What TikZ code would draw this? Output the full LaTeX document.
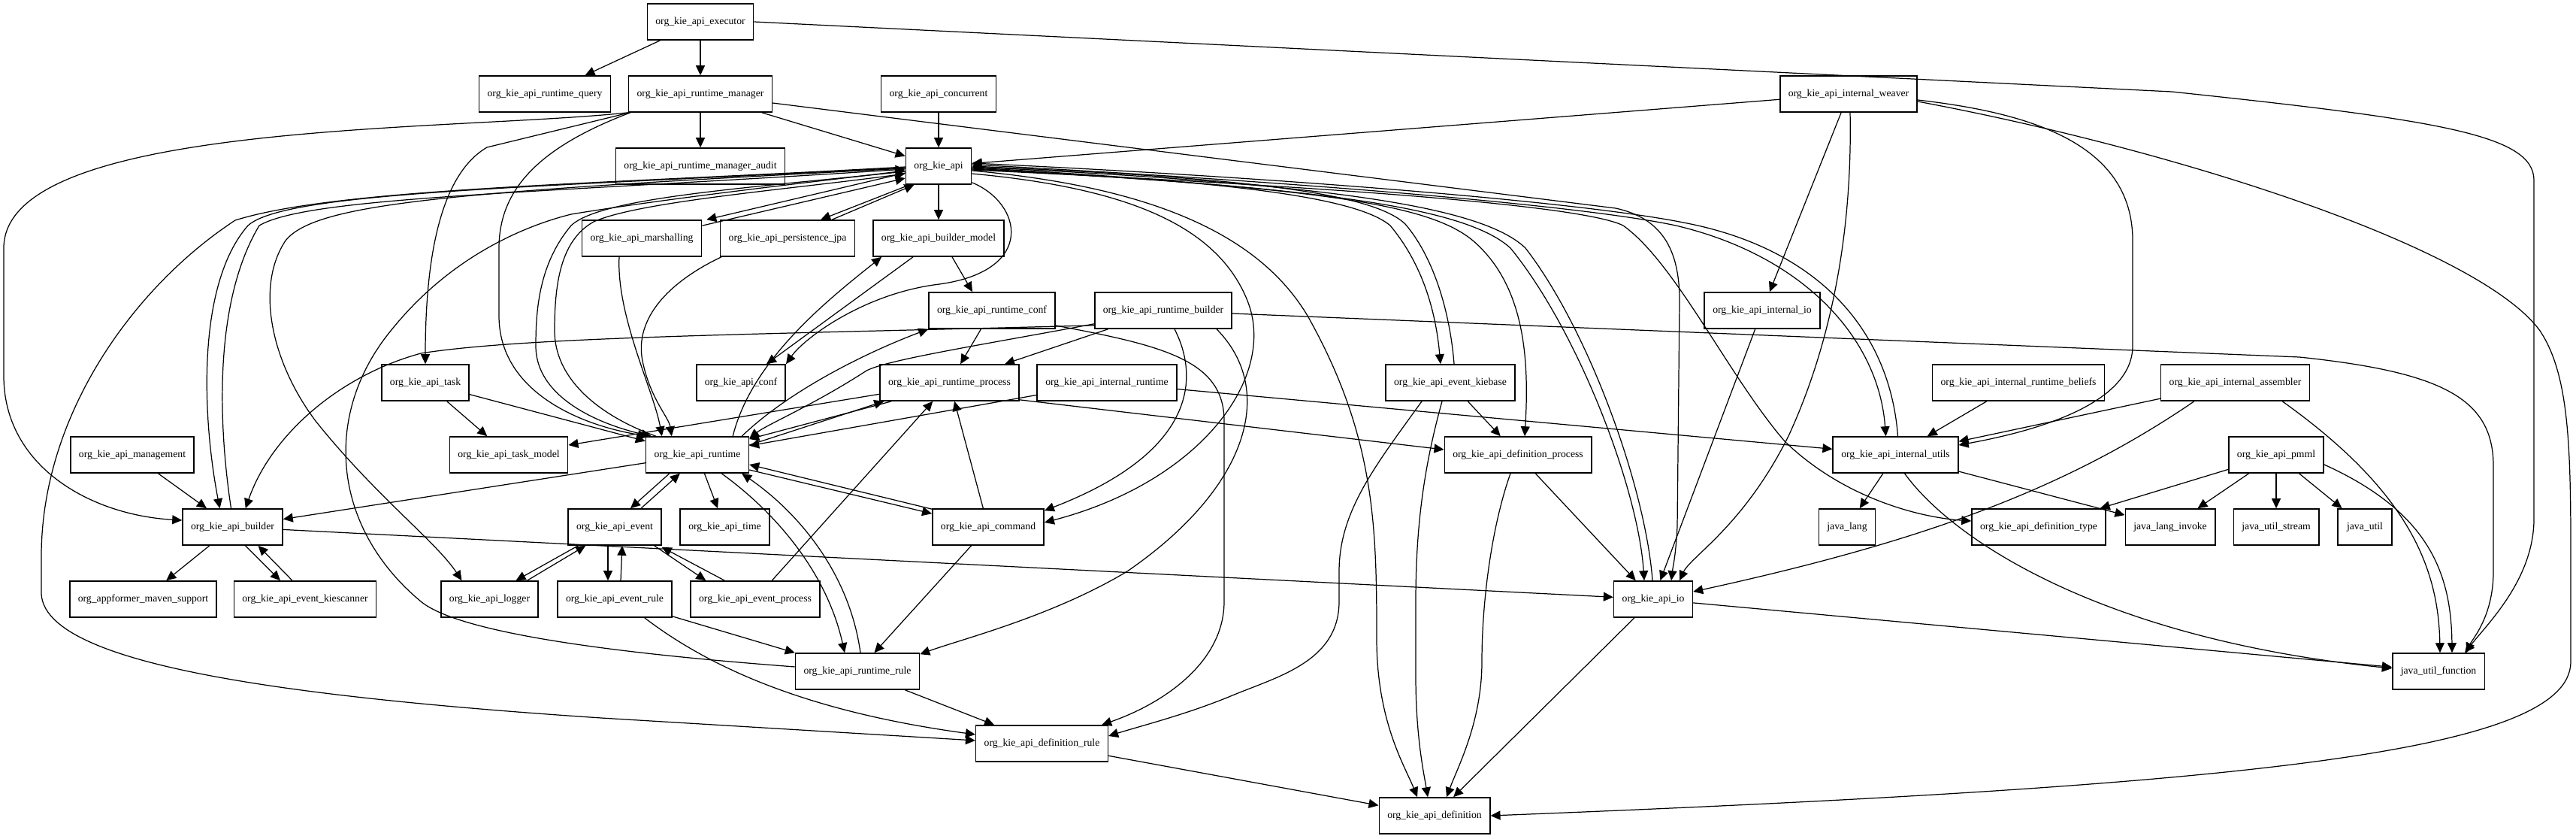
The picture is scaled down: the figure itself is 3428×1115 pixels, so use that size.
\documentclass[tikz,border=0pt]{standalone}
\usepackage{fontspec}
\setmainfont{Liberation Serif}
\usetikzlibrary{arrows.meta,calc}
\begin{document}
\begin{tikzpicture}[x=0.01cm,y=-0.01cm,
 box/.style={draw,line width=0.45pt,minimum height=0.48cm,minimum width=0.72cm,inner xsep=0.11cm,inner ysep=0pt,font=\fontsize{3.9pt}{4.5pt}\selectfont},
 edge/.style={line width=0.35pt,-{Triangle[length=0.13cm,width=0.12cm]}}]
\useasboundingbox[fill=white] (0,0) rectangle (3428,1115);
% nodes
\node[box] (exec) at (932,29) {org\_kie\_api\_executor};
\node[box] (rquery) at (725,125) {org\_kie\_api\_runtime\_query};
\node[box] (rman) at (932,125) {org\_kie\_api\_runtime\_manager};
\node[box] (conc) at (1249,125) {org\_kie\_api\_concurrent};
\node[box] (weaver) at (2460,125) {org\_kie\_api\_internal\_weaver};
\node[box] (audit) at (932,221) {org\_kie\_api\_runtime\_manager\_audit};
\node[box] (api) at (1249,221) {org\_kie\_api};
\node[box] (marsh) at (854,317) {org\_kie\_api\_marshalling};
\node[box] (jpa) at (1048,317) {org\_kie\_api\_persistence\_jpa};
\node[box] (bmodel) at (1249,317) {org\_kie\_api\_builder\_model};
\node[box] (rconf) at (1320,413) {org\_kie\_api\_runtime\_conf};
\node[box] (rbuilder) at (1548,413) {org\_kie\_api\_runtime\_builder};
\node[box] (iio) at (2345,413) {org\_kie\_api\_internal\_io};
\node[box] (task) at (566,509) {org\_kie\_api\_task};
\node[box] (conf) at (986,509) {org\_kie\_api\_conf};
\node[box] (rproc) at (1263.5,509) {org\_kie\_api\_runtime\_process};
\node[box] (iruntime) at (1473,509) {org\_kie\_api\_internal\_runtime};
\node[box] (kiebase) at (1930,509) {org\_kie\_api\_event\_kiebase};
\node[box] (beliefs) at (2686,509) {org\_kie\_api\_internal\_runtime\_beliefs};
\node[box] (assembler) at (2974.5,509) {org\_kie\_api\_internal\_assembler};
\node[box] (mgmt) at (176,605) {org\_kie\_api\_management};
\node[box] (tmodel) at (677,605) {org\_kie\_api\_task\_model};
\node[box] (runtime) at (928,605) {org\_kie\_api\_runtime};
\node[box] (dproc) at (2020,605) {org\_kie\_api\_definition\_process};
\node[box] (utils) at (2522.5,605) {org\_kie\_api\_internal\_utils};
\node[box] (pmml) at (3029,605) {org\_kie\_api\_pmml};
\node[box] (builder) at (309.5,701) {org\_kie\_api\_builder};
\node[box] (event) at (818,701) {org\_kie\_api\_event};
\node[box] (time) at (964.5,701) {org\_kie\_api\_time};
\node[box] (command) at (1315,701) {org\_kie\_api\_command};
\node[box] (jlang) at (2458,701) {java\_lang};
\node[box] (dtype) at (2713,701) {org\_kie\_api\_definition\_type};
\node[box] (jinvoke) at (2888,701) {java\_lang\_invoke};
\node[box] (jstream) at (3029,701) {java\_util\_stream};
\node[box] (jutil) at (3147,701) {java\_util};
\node[box] (appf) at (190.5,797) {org\_appformer\_maven\_support};
\node[box] (kiescan) at (406,797) {org\_kie\_api\_event\_kiescanner};
\node[box] (logger) at (651.5,797) {org\_kie\_api\_logger};
\node[box] (erule) at (818,797) {org\_kie\_api\_event\_rule};
\node[box] (eproc) at (1005,797) {org\_kie\_api\_event\_process};
\node[box] (io) at (2200,797) {org\_kie\_api\_io};
\node[box] (rrule) at (1141,893) {org\_kie\_api\_runtime\_rule};
\node[box] (jfunc) at (3245,893) {java\_util\_function};
\node[box] (drule) at (1386.5,989) {org\_kie\_api\_definition\_rule};
\node[box] (def) at (1909,1085) {org\_kie\_api\_definition};
% executor
\draw[edge] (exec) -- (rquery);
\draw[edge] (exec) -- (rman);
\draw[edge] (exec.east) -- (2890,122) .. controls (3250,160) and (3372,180) .. (3372,240) -- (3372,690) .. controls (3372,770) and (3310,830) .. ($(jfunc.north)+(35,0)$);
% runtime manager
\draw[edge] (rman) -- (audit);
\draw[edge] (rman) -- (api);
\draw[edge] (rman.south west) .. controls (600,175) and (5,160) .. (5,330) -- (5,500) .. controls (5,620) and (120,685) .. ($(builder.west)+(0,-9)$);
\draw[edge] ($(rman.south west)+(2,0)$) -- (648,196) .. controls (590,230) and (566,330) .. (task.north);
\draw[edge] ($(rman.south west)+(3,0)$) .. controls (720,195) and (664,250) .. (664,330) -- (664,420) .. controls (664,520) and (770,565) .. ($(runtime.north west)+(3,0)$);
\draw[edge] ($(rman.east)+(0,12)$) -- (2150,277) .. controls (2210,290) and (2235,330) .. (2235,400) -- (2232,700) .. controls (2230,740) and (2226,755) .. ($(io.north)+(24,0)$);
\draw[edge] (conc) -- (api);
% weaver
\draw[edge] (weaver) -- (api);
\draw[edge] (weaver) -- (iio);
\draw[edge] ($(weaver.south)+(2,0)$) .. controls (2465,300) and (2440,450) .. (2380,580) .. controls (2320,700) and (2250,740) .. ($(io.north)+(35,0)$);
\draw[edge] ($(weaver.east)+(0,8)$) .. controls (2700,150) and (2838,190) .. (2838,320) -- (2838,460) .. controls (2838,540) and (2700,575) .. ($(utils.east)+(0,-13)$);
\draw[edge] ($(weaver.east)+(0,10)$) .. controls (2900,200) and (3300,330) .. (3380,440) .. controls (3420,500) and (3421,600) .. (3421,750) -- (3421,880) .. controls (3421,1000) and (3000,1045) .. (def.east);
% api
\draw[edge] (api) -- (bmodel);
\draw[edge] ($(api.west)+(0,9)$) -- ($(marsh.north east)+(6,0)$);
\draw[edge] ($(marsh.north east)+(0,8)$) -- ($(api.west)+(0,16)$);
\draw[edge] ($(api.south west)+(6,0)$) -- ($(jpa.north east)+(-46,0)$);
\draw[edge] ($(jpa.north east)+(-31,0)$) -- ($(api.south west)+(12,0)$);
\draw[edge] ($(api.west)+(0,2)$) .. controls (700,250) and (380,255) .. (330,300) .. controls (260,380) and (270,560) .. ($(builder.north)+(-17,0)$);
\draw[edge] ($(builder.north)+(-2,0)$) .. controls (290,560) and (285,400) .. (345,300) .. controls (410,262) and (700,258) .. ($(api.west)+(0,4)$);
\draw[edge] ($(api.west)+(0,1)$) .. controls (800,245) and (450,250) .. (313,293) .. controls (180,380) and (55,550) .. (55,740) -- (55,790) .. controls (60,880) and (350,925) .. (800,955) -- ($(drule.west)+(0,-4)$);
\draw[edge] ($(api.west)+(0,3)$) .. controls (600,255) and (420,270) .. (380,320) .. controls (340,380) and (360,480) .. (420,560) .. controls (500,660) and (580,720) .. ($(logger.north)+(-37,0)$);
\draw[edge] ($(rrule.west)+(0,-6)$) .. controls (900,875) and (620,850) .. (560,800) .. controls (440,700) and (430,550) .. (520,440) .. controls (600,340) and (700,300) .. (760,285) .. controls (900,262) and (1100,240) .. ($(api.west)+(0,6)$);
\draw[edge] ($(api.west)+(0,7)$) .. controls (1000,250) and (800,262) .. (760,300) .. controls (718,350) and (713,410) .. (713,460) .. controls (713,530) and (800,565) .. ($(runtime.north west)+(8,0)$);
\draw[edge] ($(runtime.north west)+(14,0)$) .. controls (790,550) and (738,500) .. (738,440) .. controls (738,380) and (745,320) .. (790,295) .. controls (850,268) and (1050,252) .. ($(api.west)+(0,10)$);
\draw[edge] ($(marsh.south)+(-30,0)$) .. controls (820,420) and (870,520) .. ($(runtime.north west)+(22,0)$);
\draw[edge] ($(jpa.south west)+(2,0)$) .. controls (880,380) and (845,430) .. (855,480) .. controls (865,530) and (890,555) .. ($(runtime.north west)+(35,0)$);
\draw[edge] ($(runtime.north east)+(-22,0)$) .. controls (1000,480) and (1100,400) .. ($(bmodel.south west)+(12,0)$);
\draw[edge] ($(runtime.north east)+(-10,0)$) .. controls (1050,520) and (1150,470) .. (rconf.south west);
\draw[edge] ($(api.south east)+(0,-3)$) .. controls (1360,270) and (1380,360) .. (1250,378) .. controls (1150,390) and (1070,450) .. (conf.north east);
\draw[edge] (bmodel) -- (conf);
\draw[edge] ($(bmodel.south)+(18,0)$) -- ($(rconf.north)+(-26,0)$);
\draw[edge] ($(api.east)+(0,10)$) .. controls (1500,250) and (1620,300) .. (1660,400) .. controls (1700,500) and (1600,640) .. ($(command.east)+(0,-6)$);
\draw[edge] ($(api.east)+(0,6)$) .. controls (1550,250) and (1680,320) .. (1740,420) .. controls (1830,580) and (1832,700) .. (1832,850) .. controls (1832,960) and (1870,1020) .. ($(def.north)+(-23,0)$);
\draw[edge] ($(api.east)+(0,2)$) .. controls (1600,240) and (1800,258) .. (1850,300) .. controls (1900,360) and (1912,430) .. ($(kiebase.north)+(-13,0)$);
\draw[edge] ($(kiebase.north)+(5,0)$) .. controls (1930,420) and (1910,345) .. (1870,298) .. controls (1820,250) and (1600,235) .. (api.east);
\draw[edge] ($(api.east)+(0,3)$) .. controls (1750,250) and (1900,270) .. (1960,320) .. controls (2030,380) and (2035,480) .. ($(dproc.north)+(9,0)$);
\draw[edge] ($(api.east)+(0,4)$) .. controls (1750,248) and (1950,275) .. (2010,330) .. controls (2100,440) and (2180,650) .. ($(io.north)+(-12,0)$);
\draw[edge] ($(io.north)+(-1,0)$) .. controls (2190,650) and (2115,440) .. (2030,330) .. controls (1970,272) and (1750,244) .. ($(api.east)+(0,1)$);
\draw[edge] ($(api.east)+(0,-2)$) .. controls (1700,240) and (2100,272) .. (2230,300) .. controls (2400,340) and (2500,450) .. ($(utils.north)+(-13,0)$);
\draw[edge] ($(utils.north)+(3,0)$) .. controls (2515,440) and (2420,330) .. (2240,296) .. controls (2100,268) and (1700,236) .. ($(api.east)+(0,-4)$);
\draw[edge] ($(api.east)+(0,5)$) .. controls (1700,245) and (2100,270) .. (2160,300) .. controls (2230,350) and (2300,500) .. (2375,587) .. controls (2450,660) and (2550,688) .. ($(dtype.west)+(0,-8)$);
% runtime builder
\draw[edge] ($(rbuilder.east)+(0,4)$) -- (3060,475) .. controls (3250,495) and (3318,530) .. (3318,620) -- (3318,760) .. controls (3318,820) and (3290,850) .. ($(jfunc.north)+(37,0)$);
\draw[edge] ($(rbuilder.south west)+(0,-5)$) .. controls (1000,445) and (700,448) .. (560,470) .. controls (450,500) and (360,580) .. ($(builder.north east)+(-50,0)$);
\draw[edge] ($(rbuilder.south west)+(0,-7)$) .. controls (1300,460) and (1170,480) .. (1150,495) .. controls (1080,540) and (1020,565) .. ($(runtime.north east)+(0,3)$);
\draw[edge] (rbuilder) -- (rproc);
\draw[edge] ($(rbuilder.south)+(15,0)$) .. controls (1595,500) and (1595,600) .. ($(command.north east)+(0,3)$);
\draw[edge] ($(rbuilder.south east)+(-21,0)$) .. controls (1700,520) and (1660,650) .. (1500,760) .. controls (1400,820) and (1280,850) .. ($(rrule.north east)+(0,2)$);
% runtime conf
\draw[edge] (rconf) -- (rproc);
\draw[edge] ($(rconf.east)+(0,20)$) .. controls (1550,460) and (1629,480) .. (1629,560) -- (1629,800) .. controls (1629,880) and (1550,935) .. ($(drule.north east)+(-9,0)$);
\draw[edge] (iio) -- (io);
% task
\draw[edge] (task) -- (tmodel);
\draw[edge] (task) -- (runtime);
% runtime process
\draw[edge] (rproc) -- (tmodel);
\draw[edge] ($(rproc.south west)+(16,0)$) -- ($(runtime.east)+(0,-21)$);
\draw[edge] ($(runtime.east)+(0,-13)$) -- ($(rproc.south west)+(6,0)$);
\draw[edge] ($(rproc.south east)+(0,-2)$) -- ($(dproc.west)+(0,-7)$);
% internal runtime
\draw[edge] (iruntime) -- (runtime);
\draw[edge] (iruntime) -- (utils);
% kiebase
\draw[edge] (kiebase) -- (dproc);
\draw[edge] ($(kiebase.south)+(-11,0)$) .. controls (1895,620) and (1884,700) .. (1884,800) -- (1884,900) .. controls (1884,980) and (1895,1030) .. ($(def.north)+(-9,0)$);
\draw[edge] ($(kiebase.south)+(-38,0)$) .. controls (1830,620) and (1782,680) .. (1782,760) -- (1782,800) .. controls (1782,880) and (1700,900) .. (1640,925) .. controls (1580,950) and (1520,965) .. ($(drule.east)+(0,-10)$);
% definition process
\draw[edge] (dproc) -- (io);
\draw[edge] ($(dproc.south)+(-10,0)$) .. controls (1985,700) and (1972,800) .. (1972,880) .. controls (1972,960) and (1940,1020) .. ($(def.north)+(16,0)$);
% beliefs, assembler
\draw[edge] (beliefs) -- (utils);
\draw[edge] (assembler) -- (utils);
\draw[edge] ($(assembler.south west)+(45,0)$) .. controls (2750,650) and (2560,720) .. ($(io.east)+(0,-10)$);
\draw[edge] ($(assembler.south east)+(-37,0)$) .. controls (3200,650) and (3245,750) .. ($(jfunc.north)+(2,0)$);
% utils
\draw[edge] (utils) -- (jlang);
\draw[edge] (utils) -- (jinvoke);
\draw[edge] ($(utils.south)+(12,0)$) .. controls (2600,720) and (2800,850) .. ($(jfunc.west)+(0,-4)$);
% pmml
\draw[edge] (pmml) -- (dtype);
\draw[edge] (pmml) -- (jinvoke);
\draw[edge] (pmml) -- (jstream);
\draw[edge] (pmml) -- (jutil);
\draw[edge] ($(pmml.east)+(0,13)$) .. controls (3230,680) and (3262,760) .. ($(jfunc.north)+(18,0)$);
% builder
\draw[edge] (mgmt) -- (builder);
\draw[edge] (builder) -- (appf);
\draw[edge] ($(builder.south)+(17,0)$) -- ($(kiescan.north)+(-33,0)$);
\draw[edge] ($(kiescan.north)+(-17,0)$) -- ($(builder.south)+(34,0)$);
\draw[edge] (builder) -- (io);
\draw[edge] (runtime) -- (builder);
% event
\draw[edge] ($(runtime.south west)+(32,0)$) -- ($(event.north)+(21,0)$);
\draw[edge] ($(event.north)+(35,0)$) -- ($(runtime.south west)+(46,0)$);
\draw[edge] (runtime) -- (time);
\draw[edge] ($(event.south west)+(14,0)$) -- ($(logger.north)+(35,0)$);
\draw[edge] ($(logger.north)+(50,0)$) -- ($(event.south west)+(24,0)$);
\draw[edge] ($(event.south)+(-9,0)$) -- ($(erule.north)+(-9,0)$);
\draw[edge] ($(erule.north)+(8,0)$) -- ($(event.south)+(10,0)$);
\draw[edge] ($(event.south east)+(-10,0)$) -- ($(eproc.north west)+(21,0)$);
\draw[edge] ($(eproc.north west)+(46,0)$) -- ($(event.south east)+(0,2)$);
\draw[edge] (eproc) -- (rproc);
\draw[edge] (erule) -- (rrule);
\draw[edge] ($(erule.south east)+(-37,0)$) .. controls (960,900) and (1100,950) .. ($(drule.west)+(0,-12)$);
% runtime <-> rule, command
\draw[edge] ($(runtime.south east)+(-37,0)$) .. controls (1030,680) and (1100,760) .. ($(rrule.north)+(-17,0)$);
\draw[edge] ($(rrule.north)+(4,0)$) .. controls (1130,760) and (1060,680) .. ($(runtime.south east)+(-10,0)$);
\draw[edge] ($(runtime.east)+(0,20)$) -- ($(command.north west)+(0,7)$);
\draw[edge] ($(command.north west)+(0,1)$) -- ($(runtime.east)+(0,13)$);
\draw[edge] (command) -- (rproc);
\draw[edge] (command) -- (rrule);
% bottom
\draw[edge] (rrule) -- (drule);
\draw[edge] (drule) -- (def);
\draw[edge] (io) -- (def);
\draw[edge] (io) -- (jfunc);
\end{tikzpicture}
\end{document}
